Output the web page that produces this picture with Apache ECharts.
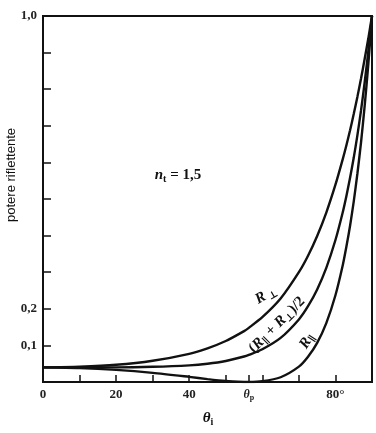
<!DOCTYPE html>
<html>
<head>
<meta charset="utf-8">
<script src="https://cdn.jsdelivr.net/npm/echarts@6/dist/echarts.min.js"></script>
<style>
  html, body { margin: 0; padding: 0; background: #fff; }
  #chart { width: 376px; height: 433px; }
</style>
</head>
<body>
<div id="chart"></div>
<script>
// angle of incidence (deg) and reflectances
const angles = [0, 10, 20, 30, 40, 45, 50, 55, 56.3, 60, 65, 70, 72.5, 75, 77.5, 80, 82, 83, 84, 85, 86, 87, 88, 89, 90];
const rPerp = [0.040, 0.042, 0.047, 0.058, 0.077, 0.092, 0.112, 0.139, 0.148, 0.177, 0.228, 0.300, 0.345, 0.399, 0.463, 0.539, 0.609, 0.647, 0.688, 0.732, 0.779, 0.829, 0.883, 0.939, 1.0];
const rPar = [0.040, 0.038, 0.033, 0.025, 0.014, 0.008, 0.003, 0.0002, 0, 0.002, 0.013, 0.042, 0.069, 0.107, 0.161, 0.237, 0.319, 0.370, 0.427, 0.493, 0.569, 0.655, 0.755, 0.869, 1.0];
const rAvg = [0.040, 0.040, 0.040, 0.0415, 0.0455, 0.050, 0.0575, 0.0696, 0.074, 0.0895, 0.1205, 0.171, 0.207, 0.253, 0.312, 0.388, 0.464, 0.5085, 0.558, 0.6125, 0.674, 0.742, 0.819, 0.904, 1.0];

const xTicks = [10, 20, 30, 40, 50, 56.3, 60, 70, 80];
const xLabels = [0, 20, 40, 56.3, 80];
const yLabels = [0.1, 0.2, 1.0];

const serif = '"Liberation Serif", "DejaVu Serif", serif';
const sans = '"Liberation Sans", Arial, sans-serif';
const pairs = (ys) => angles.map((a, i) => [a, ys[i]]);

const chart = echarts.init(document.getElementById('chart'));

const curve = (name, ys) => ({
  name: name,
  type: 'line',
  data: pairs(ys),
  smooth: 0.25,
  showSymbol: false,
  lineStyle: { color: '#111', width: 2.4 },
  silent: true
});

const sub = { fontSize: 10, fontFamily: serif, fontWeight: 'bold', color: '#111', padding: [8, 0, 0, 0] };
const ital = { fontSize: 15, fontFamily: serif, fontStyle: 'italic', fontWeight: 'bold', color: '#111' };
const plain = { fontSize: 15, fontFamily: serif, fontWeight: 'bold', color: '#111' };

const label = (x, y, rot, text) => ({
  type: 'text',
  x: x, y: y,
  rotation: rot,
  style: {
    text: text,
    align: 'center',
    verticalAlign: 'middle',
    fontSize: 15,
    fontFamily: serif,
    fill: '#111',
    rich: { i: ital, s: sub, p: plain }
  }
});

const option = {
  animation: false,
  backgroundColor: '#fff',
  grid: {
    left: 43, right: 4, top: 16, bottom: 51,
    show: true,
    borderColor: '#111',
    borderWidth: 2
  },
  xAxis: {
    type: 'value',
    min: 0, max: 90,
    axisLine: { show: true, lineStyle: { color: '#111', width: 2 } },
    axisTick: {
      show: true, inside: true, length: 7,
      customValues: xTicks,
      lineStyle: { color: '#111', width: 1.5 }
    },
    axisLabel: {
      customValues: xLabels,
      margin: 6,
      fontSize: 13,
      fontFamily: serif,
      fontWeight: 'bold',
      color: '#222',
      formatter: (v) => v === 56.3 ? '{i|θ}{s|p}' : (v === 80 ? '80°' : String(v)),
      rich: {
        i: { fontSize: 12, fontFamily: serif, fontStyle: 'italic', fontWeight: 'bold', color: '#222' },
        s: { fontSize: 8, fontFamily: serif, color: '#222', padding: [6, 0, 0, 0] }
      }
    },
    splitLine: { show: false }
  },
  yAxis: {
    type: 'value',
    min: 0, max: 1, interval: 0.1,
    axisLine: { show: true, lineStyle: { color: '#111', width: 2 } },
    axisTick: {
      show: true, inside: true, length: 8,
      lineStyle: { color: '#111', width: 1.5 }
    },
    axisLabel: {
      customValues: yLabels,
      margin: 6,
      fontSize: 13,
      fontFamily: serif,
      fontWeight: 'bold',
      color: '#222',
      formatter: (v) => v.toFixed(1).replace('.', ',')
    },
    splitLine: { show: false }
  },
  series: [
    curve('R⊥', rPerp),
    curve('(R∥ + R⊥)/2', rAvg),
    curve('R∥', rPar)
  ],
  graphic: [
    {
      type: 'text', x: 11, y: 175, rotation: Math.PI / 2,
      style: { text: 'potere riflettente', align: 'center', verticalAlign: 'middle', fontSize: 13, fontFamily: sans, fill: '#111' }
    },
    label(208, 418, 0, '{i|θ}{s|i}'),
    label(178, 175, 0, '{i|n}{s|t}{p| = 1,5}'),
    label(266, 295, Math.PI / 6, '{i|R}{s| ⊥}'),
    label(277, 325, Math.PI / 4, '{p|(}{i|R}{s|∥}{p| + }{i|R}{s|⊥}{p|)/2}'),
    label(307, 341, Math.PI * 0.32, '{i|R}{s|∥}')
  ]
};

chart.setOption(option);
</script>
</body>
</html>
